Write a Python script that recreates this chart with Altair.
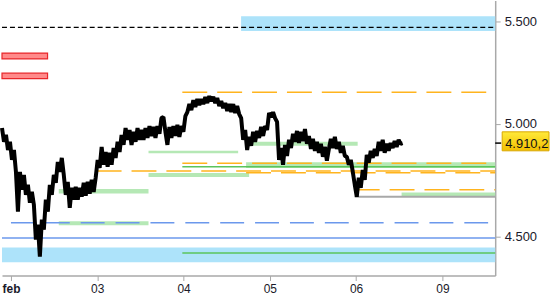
import altair as alt
import pandas as pd

# ---- axis data ----
day_ticks = [0, 1, 2, 3, 4, 5]
day_labels = ["feb", "03", "04", "05", "06", "09"]
price_ticks = [4500, 5000, 5500]
t_start, t_end = -0.104, 5.612
y_min, y_max = 4340, 5608
bar_step = 0.0231  # one bar in trading-day units
last_price = 4910.2

# ---- price bars ----
price = [
    4980, 4916, 4948, 4879, 4916, 4834, 4879, 4780, 4606, 4780,
    4701, 4767, 4679, 4723, 4645, 4692, 4636, 4488, 4551, 4417,
    4572, 4530, 4658, 4606, 4723, 4679, 4767, 4732, 4825, 4780,
    4843, 4767, 4679, 4736, 4623, 4710, 4658, 4714, 4658, 4710,
    4671, 4732, 4675, 4736, 4684, 4745, 4692, 4754, 4834, 4798,
    4893, 4812, 4870, 4803, 4866, 4812, 4888, 4843, 4916, 4870,
    4948, 4902, 4980, 4925, 4971, 4902, 4962, 4916, 4980, 4925,
    4971, 4925, 4980, 4934, 4989, 4943, 4985, 4934, 4989, 4953,
    5026, 5031, 4962, 4902, 4985, 4934, 4989, 4943, 4994, 4939,
    4989, 4962, 5035, 5054, 5092, 5064, 5111, 5078, 5116, 5087,
    5116, 5092, 5126, 5097, 5130, 5106, 5126, 5097, 5121, 5083,
    5106, 5073, 5097, 5059, 5092, 5054, 5092, 5050, 5083, 5045,
    5026, 4925, 4971, 4879, 4939, 4898, 4962, 4916, 4966, 4934,
    4985, 4943, 4989, 4971, 5050, 5031, 5054, 5026, 5008, 4834,
    4888, 4812, 4902, 4852, 4925, 4888, 4953, 4916, 4966, 4911,
    4962, 4920, 4975, 4907, 4943, 4884, 4930, 4875, 4916, 4866,
    4907, 4848, 4893, 4830, 4884, 4930, 4888, 4939, 4884, 4916,
    4866, 4898, 4852, 4848, 4812, 4834, 4780, 4723, 4671, 4754,
    4710, 4789, 4745, 4857, 4821, 4875, 4843, 4884, 4852, 4916,
    4875, 4925, 4866, 4907, 4875, 4911, 4888, 4920, 4893, 4925,
    4907, 4910,
]
times = [t_start + i * bar_step for i in range(len(price))]
price_df = pd.DataFrame({"t": times, "price": price})

# ---- zones (filled) ----
zone_lo = [5451, 4394, 4898, 4797, 4758, 4685, 4548, 4672]
zone_hi = [5526, 4455, 4916, 4823, 4775, 4705, 4565, 4689]
zone_t1 = [2.667, t_start, 2.783, 2.725, 1.594, 0.554, 0.554, 4.527]
zone_t2 = [t_end, t_end, 4.018, t_end, 2.760, 1.594, 1.594, t_end]
zone_col = ["#ADE3FA", "#ADE3FA", "#B5E8B5", "#B5E8B5", "#B5E8B5",
            "#B5E8B5", "#B5E8B5", "#B5E8B5"]
zones = pd.DataFrame({"lo": zone_lo, "hi": zone_hi, "t1": zone_t1,
                      "t2": zone_t2, "c": zone_col})

red_lo = [5311, 5214]
red_hi = [5340, 5241]
red_t1 = [t_start, t_start]
red_t2 = [0.424, 0.424]
reds = pd.DataFrame({"lo": red_lo, "hi": red_hi, "t1": red_t1, "t2": red_t2})

# ---- solid lines ----
sol_y = [4803, 4432, 4495, 4671, 4870]
sol_t1 = [1.986, 1.986, t_start, 3.984, 1.594]
sol_t2 = [t_end, t_end, t_end, t_end, 2.633]
sol_col = ["#5BC45B", "#5BC45B", "#6B98EC", "#A8A8A8", "#B5E8B5"]
sol_w = [1.5, 1.5, 1.5, 2, 2.5]
solids = pd.DataFrame({"y": sol_y, "t1": sol_t1, "t2": sol_t2,
                       "c": sol_col, "w": sol_w})

# ---- dashed lines ----
org_y = [5148, 4819, 4784, 4776, 4701]
org_t1 = [1.986, 1.986, 0.993, 2.725, 3.984]
org_t2 = [5.508, t_end, t_end, t_end, t_end]
oranges = pd.DataFrame({"y": org_y, "t1": org_t1, "t2": org_t2})

blk_y = [5469]
blues_y = [4559]

x_scale = alt.Scale(domain=[t_start, t_end], nice=False, zero=False)
y_scale = alt.Scale(type="log", domain=[y_min, y_max], nice=False, zero=False)

x_axis = alt.Axis(
    values=day_ticks,
    labelExpr="['feb','03','04','05','06','09'][datum.value]",
    labelFontWeight={"condition": {"test": "datum.value == 0", "value": "bold"}, "value": "normal"},
    title=None, grid=False, domainColor="#A9A9A9", domainWidth=1.5,
    tickColor="#A9A9A9", tickSize=5, labelFont="Liberation Sans",
    labelFontSize=12, labelColor="#1a1a2a", labelPadding=3,
)
y_axis = alt.Axis(
    orient="right", values=price_ticks,
    labelExpr="replace(format(datum.value, ',.0f'), ',', '.')",
    title=None, grid=False, domainColor="#A9A9A9", domainWidth=1.5,
    tickColor="#A9A9A9", tickSize=5, labelFont="Liberation Sans",
    labelFontSize=13, labelColor="#1a1a2a", labelPadding=4,
)


def X(f):
    return alt.X(f"{f}:Q", scale=x_scale, axis=x_axis)


def Y(f):
    return alt.Y(f"{f}:Q", scale=y_scale, axis=y_axis)


zone_layer = alt.Chart(zones).mark_rect().encode(
    x=X("t1"), x2="t2", y=Y("lo"), y2="hi",
    color=alt.Color("c:N", scale=None),
)
red_layer = alt.Chart(reds).mark_rect(fill="#FF8A8A", stroke="#E8262A", strokeWidth=1.2).encode(
    x=X("t1"), x2="t2", y=Y("lo"), y2="hi",
)
solid_layer = alt.Chart(solids).mark_rule().encode(
    x=X("t1"), x2="t2", y=Y("y"),
    color=alt.Color("c:N", scale=None),
    strokeWidth=alt.StrokeWidth("w:Q", scale=None),
)
orange_layer = alt.Chart(oranges).mark_rule(color="#FFB41E", strokeWidth=1.5, strokeDash=[25, 10]).encode(
    x=X("t1"), x2="t2", y=Y("y"),
)
black_layer = alt.Chart(pd.DataFrame({"y": blk_y, "t1": [t_start], "t2": [t_end]})).mark_rule(
    color="#000000", strokeWidth=1.2, strokeDash=[5, 3]).encode(
    x=X("t1"), x2="t2", y=Y("y"),
)
blue_dash_layer = alt.Chart(pd.DataFrame({"y": blues_y, "t1": [0.0], "t2": [5.53]})).mark_rule(
    color="#6B98EC", strokeWidth=1.5, strokeDash=[24, 11]).encode(
    x=X("t1"), x2="t2", y=Y("y"),
)
price_layer = alt.Chart(price_df).mark_line(color="#000000", strokeWidth=4, strokeJoin="bevel").encode(
    x=X("t"), y=Y("price"),
)

last_df = pd.DataFrame({"p": [last_price], "lo": [4875], "hi": [4962],
                        "txt": ["4.910,2"]})
label_box = alt.Chart(last_df).mark_rect(
    fill={"gradient": "linear", "x1": 0, "y1": 0, "x2": 0, "y2": 1,
          "stops": [{"offset": 0, "color": "#FFEA3A"}, {"offset": 1, "color": "#F2BE00"}]},
    stroke="#D9A800", strokeWidth=1,
).encode(
    x=alt.value(502), x2=alt.value(549), y=Y("lo"), y2="hi",
)
label_tick = alt.Chart(last_df).mark_rule(color="#000000", strokeWidth=1.5).encode(
    x=alt.value(495), x2=alt.value(501), y=Y("p"),
)
label_text = alt.Chart(last_df).mark_text(
    align="left", baseline="middle", font="Liberation Sans", fontSize=13,
    color="#111111", dy=1,
).encode(
    x=alt.value(505), y=Y("p"), text="txt:N",
)

chart = alt.layer(
    zone_layer, red_layer, solid_layer, orange_layer,
    black_layer, blue_dash_layer, price_layer,
    label_box, label_tick, label_text,
).properties(
    width=495, height=276, padding=0, background="#ffffff",
).configure_view(stroke=None)

chart.save("out.html", embed_options={"renderer": "svg", "actions": False})
